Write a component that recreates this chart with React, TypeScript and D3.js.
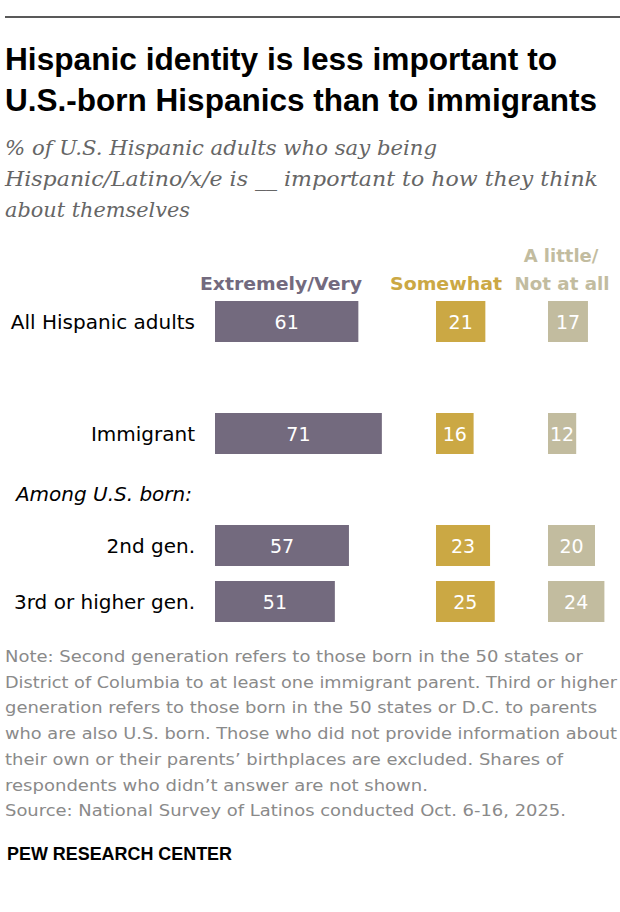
import React from "react";
import * as d3 from "d3";

// Survey groups (rows) and the three response shares for each
const categories = ["All Hispanic adults", "Immigrant", "2nd gen.", "3rd or higher gen."];
const extremelyVery = [61, 71, 57, 51];
const somewhat = [21, 16, 23, 25];
const littleNotAtAll = [17, 12, 20, 24];
const seriesNames = ["Extremely/Very", "Somewhat", "A little/ Not at all"];

// Row order including the spacer row and the "Among U.S. born:" subhead
const rowKeys = ["All Hispanic adults", "__gap__", "Immigrant", "Among U.S. born:", "2nd gen.", "3rd or higher gen."];

const titleLines = [
  "Hispanic identity is less important to",
  "U.S.-born Hispanics than to immigrants",
];
const subtitleLines = [
  "% of U.S. Hispanic adults who say being",
  "Hispanic/Latino/x/e is __ important to how they think",
  "about themselves",
];
const noteLines = [
  "Note: Second generation refers to those born in the 50 states or",
  "District of Columbia to at least one immigrant parent. Third or higher",
  "generation refers to those born in the 50 states or D.C. to parents",
  "who are also U.S. born. Those who did not provide information about",
  "their own or their parents\u2019 birthplaces are excluded. Shares of",
  "respondents who didn\u2019t answer are not shown.",
  "Source: National Survey of Latinos conducted Oct. 6-16, 2025.",
];
const noteWidths = [578, 612, 592, 612, 558, 423, 561];

const W = 620;
const H = 912;
const colors = ["#736a7e", "#cba844", "#c2bc9f"];
const sans = "'DejaVu Sans', Verdana, sans-serif";
const condensed = "'Liberation Sans', Arial, sans-serif";

export default function App() {
  const series = [extremelyVery, somewhat, littleNotAtAll];
  const colStart = [215, 436, 548];

  const x = d3.scaleLinear().domain([0, 100]).range([0, 235]);
  const y = d3
    .scaleBand<string>()
    .domain(rowKeys)
    .range([301, 622])
    .paddingInner(15 / 56)
    .paddingOuter(0);

  const labelRight = 195;

  return (
    <svg width={W} height={H} style={{ display: "block", position: "absolute", left: 0, top: 0 }}>
      <rect width={W} height={H} fill="#fff" />
      <line x1={5} x2={W} y1={17} y2={17} stroke="#222" strokeWidth={1.5} />

      {titleLines.map((t, i) => (
        <text
          key={t}
          x={5}
          y={70 + i * 41}
          fontFamily={condensed}
          fontWeight={700}
          fontSize={31}
          fill="#000"
          textLength={i === 0 ? 552 : 592}
          lengthAdjust="spacingAndGlyphs"
        >
          {t}
        </text>
      ))}

      {subtitleLines.map((t, i) => (
        <text
          key={t}
          x={5}
          y={155 + i * 31}
          fontFamily="'DejaVu Serif', Georgia, serif"
          fontStyle="italic"
          fontSize={21}
          fill="#666"
          textLength={[432, 593, 185][i]}
          lengthAdjust="spacingAndGlyphs"
        >
          {t}
        </text>
      ))}

      {/* Column headers */}
      <g fontFamily={sans} fontWeight={700} fontSize={18} textAnchor="middle">
        <text x={281} y={290} fill={colors[0]} textLength={162} lengthAdjust="spacingAndGlyphs">
          {seriesNames[0]}
        </text>
        <text x={446} y={290} fill={colors[1]} textLength={112} lengthAdjust="spacingAndGlyphs">
          {seriesNames[1]}
        </text>
        <text x={561} y={262} fill={colors[2]}>A little/</text>
        <text x={562} y={290} fill={colors[2]} textLength={95} lengthAdjust="spacingAndGlyphs">
          Not at all
        </text>
      </g>

      {/* Row labels */}
      <g fontFamily={sans} fontSize={20} fill="#000" textAnchor="end">
        {categories.map((c) => (
          <text key={c} x={labelRight} y={(y(c) ?? 0) + y.bandwidth() / 2 + 7}>
            {c}
          </text>
        ))}
        <text
          x={labelRight - 3}
          y={(y("Among U.S. born:") ?? 0) + y.bandwidth() / 2 + 11}
          fontStyle="italic"
        >
          Among U.S. born:
        </text>
      </g>

      {/* Bars with value labels */}
      {series.map((vals, s) => (
        <g key={s}>
          {vals.map((v, i) => {
            const yy = y(categories[i]) ?? 0;
            return (
              <g key={i}>
                <rect x={colStart[s]} y={yy} width={x(v)} height={y.bandwidth()} fill={colors[s]} />
                <text
                  x={colStart[s] + x(v) / 2}
                  y={yy + y.bandwidth() / 2 + 7}
                  textAnchor="middle"
                  fontFamily={sans}
                  fontSize={19}
                  fill="#fff"
                >
                  {v}
                </text>
              </g>
            );
          })}
        </g>
      ))}

      {/* Notes and source */}
      <g fontFamily={sans} fontSize={16.5} fill="#8a8a8a">
        {noteLines.map((t, i) => (
          <text
            key={i}
            x={5}
            y={662 + i * 25.7}
            textLength={noteWidths[i]}
            lengthAdjust="spacingAndGlyphs"
          >
            {t}
          </text>
        ))}
      </g>

      <text
        x={7}
        y={860}
        fontFamily={condensed}
        fontWeight={700}
        fontSize={19}
        fill="#000"
        textLength={225}
        lengthAdjust="spacingAndGlyphs"
      >
        PEW RESEARCH CENTER
      </text>
    </svg>
  );
}
